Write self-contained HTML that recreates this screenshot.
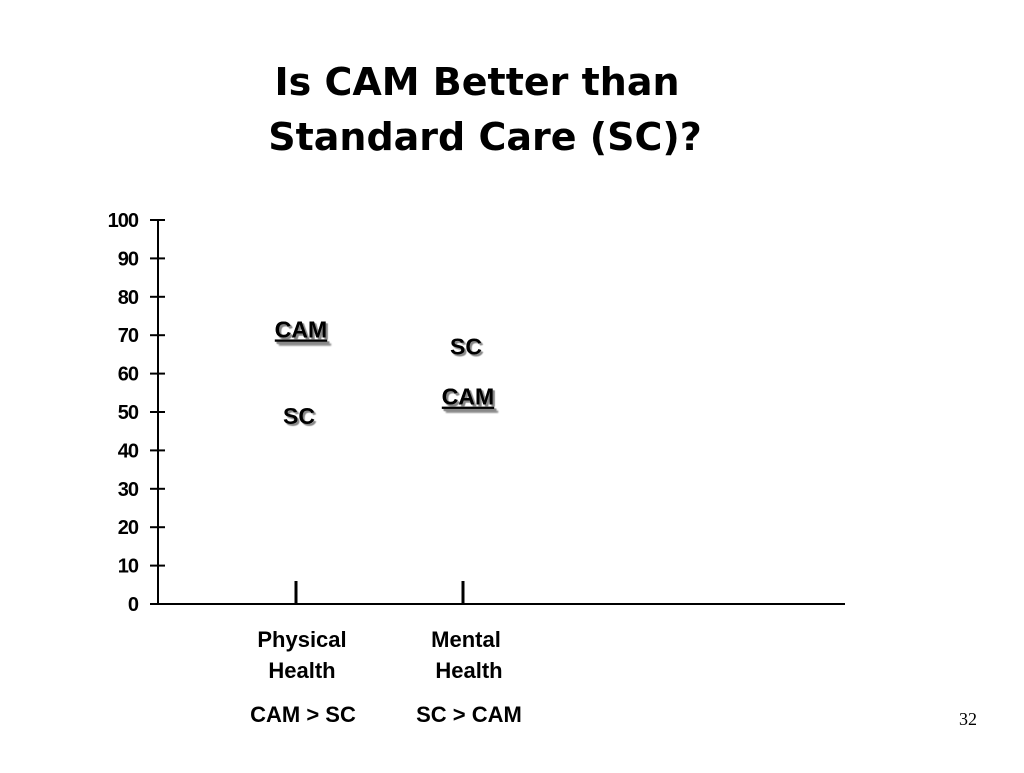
<!DOCTYPE html>
<html><head><meta charset="utf-8"><style>
body{margin:0;background:#fff;width:1024px;height:768px;overflow:hidden;font-family:"Liberation Sans",sans-serif}
</style></head><body>
<svg width="1024" height="768">
<text x="477" y="95" text-anchor="middle" font-family="DejaVu Sans" font-weight="bold" font-size="38">Is CAM Better than</text>
<text x="485" y="150" text-anchor="middle" font-family="DejaVu Sans" font-weight="bold" font-size="38">Standard Care (SC)?</text>
<g id="axes"></g>
<g id="marks"></g>
<text x="302" y="647" text-anchor="middle" font-weight="bold" font-size="22">Physical</text>
<text x="302" y="678" text-anchor="middle" font-weight="bold" font-size="22">Health</text>
<text x="466" y="647" text-anchor="middle" font-weight="bold" font-size="22">Mental</text>
<text x="469" y="678" text-anchor="middle" font-weight="bold" font-size="22">Health</text>
<text x="303" y="722" text-anchor="middle" font-weight="bold" font-size="22">CAM &gt; SC</text>
<text x="469" y="722" text-anchor="middle" font-weight="bold" font-size="22">SC &gt; CAM</text>
<text x="968" y="725" text-anchor="middle" font-family="Liberation Serif" font-size="18">32</text>
</svg>
<script>
const ticks=[0,10,20,30,40,50,60,70,80,90,100];
const categories=["Physical Health","Mental Health"];
const camValues=[71.5,54];
const scValues=[49,67];
const NS="http://www.w3.org/2000/svg";
const X0=158,X1=845,Y0=604,Y1=220;
const y=v=>Y0-(v/100)*(Y1-Y0)*-1;
const ys=v=>Y0-v*(Y0-Y1)/100;
const catX=[296,463];
const xc=i=>catX[i];
function mk(tag,attrs,parent){const e=document.createElementNS(NS,tag);for(const k in attrs)e.setAttribute(k,attrs[k]);parent.appendChild(e);return e;}
const ax=document.getElementById('axes'),mg=document.getElementById('marks');
let l=mk('line',{x1:X0,y1:Y1,x2:X0,y2:Y0,stroke:'#000','stroke-width':2},ax);


l=mk('line',{x1:X0,y1:Y0,x2:X1,y2:Y0,stroke:'#000','stroke-width':2},ax);


ticks.forEach(t=>{
 const tl=mk('line',{x1:150,y1:ys(t),x2:165,y2:ys(t),stroke:'#000','stroke-width':2},ax);
 
 
 const tx=mk('text',{x:138,y:ys(t)+7,'text-anchor':'end','font-weight':'bold','font-size':20,'letter-spacing':'-1'},ax);
 tx.textContent=t;
 
 
});
categories.forEach((c,i)=>{
 const m=mk('line',{x1:xc(i),y1:581,x2:xc(i),y2:Y0,stroke:'#000','stroke-width':3},mg);
 
 
 const cam=mk('text',{x:xc(i)+5,y:ys(camValues[i])+8,'text-anchor':'middle','font-weight':'bold','font-size':23,'text-decoration':'underline',style:'text-shadow:2px 2px 1px #888'},mg);
 cam.textContent='CAM';
 
 
 const sc=mk('text',{x:xc(i)+3,y:ys(scValues[i])+8,'text-anchor':'middle','font-weight':'bold','font-size':23,style:'text-shadow:2px 2px 1px #888'},mg);
 sc.textContent='SC';
 
 
});
</script>
</body></html>
